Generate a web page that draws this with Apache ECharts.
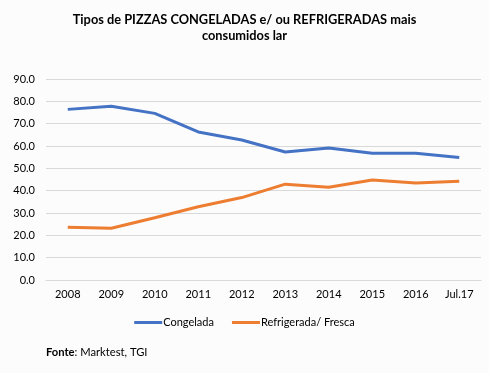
<!DOCTYPE html>
<html>
<head>
<meta charset="utf-8">
<script src="https://cdn.jsdelivr.net/npm/echarts@6/dist/echarts.min.js"></script>
<style>
html,body{margin:0;padding:0;background:#fcfcfc;}
#c{width:489px;height:373px;}
</style>
</head>
<body>
<div id="c"></div>
<script>
const categories = ['2008','2009','2010','2011','2012','2013','2014','2015','2016','Jul.17'];
const congelada = [76.4, 77.8, 74.6, 66.3, 62.7, 57.3, 59.1, 56.8, 56.8, 54.9];
const refrigerada = [23.6, 23.2, 27.9, 32.8, 36.9, 42.9, 41.5, 44.8, 43.4, 44.2];
const seriesNames = ['Congelada', 'Refrigerada/ Fresca'];
const titleText = 'Tipos de PIZZAS CONGELADAS e/ ou REFRIGERADAS mais\nconsumidos lar';
const sourceLabel = 'Fonte';
const sourceText = ': Marktest, TGI';

const font = 'Lato, "Open Sans", sans-serif';
const chart = echarts.init(document.getElementById('c'), null, {renderer:'canvas'});
chart.setOption({
  backgroundColor: '#fcfcfc',
  animation: false,
  title: {
    text: titleText,
    left: 'center',
    top: 7,
    textStyle: {fontFamily: font, fontSize: 12.8, fontWeight: 'bold', color: '#000', lineHeight: 16}
  },
  graphic: [{
    type: 'text',
    left: 46, top: 347,
    style: {
      text: '{b|' + sourceLabel + '}' + sourceText,
      fontFamily: font, fontSize: 11.2, fill: '#000',
      rich: {b: {fontWeight: 'bold', fontFamily: font, fontSize: 11.2}}
    }
  }],
  legend: {
    bottom: 40,
    left: 'center',
    itemWidth: 28,
    itemHeight: 3,
    itemGap: 18,
    icon: 'rect',
    textStyle: {fontFamily: font, fontSize: 11, color: '#000', padding: [0,0,0,-4]},
    data: seriesNames
  },
  grid: {left: 46, right: 8, top: 79, bottom: 93, containLabel: false},
  xAxis: {
    type: 'category',
    data: categories,
    boundaryGap: true,
    axisLine: {show: true, lineStyle: {color: '#d9d9d9'}},
    axisTick: {show: false},
    axisLabel: {fontFamily: font, fontSize: 11, color: '#000', margin: 9}
  },
  yAxis: {
    type: 'value',
    min: 0, max: 90, interval: 10,
    axisLine: {show: false},
    axisTick: {show: false},
    splitLine: {lineStyle: {color: '#d9d9d9', width: 1}},
    axisLabel: {fontFamily: font, fontSize: 11, color: '#000', margin: 11,
      formatter: v => v.toFixed(1)}
  },
  series: [
    {name: seriesNames[0], type: 'line', data: congelada, symbol: 'none',
     lineStyle: {color: '#4472C4', width: 3}, itemStyle: {color: '#4472C4'}},
    {name: seriesNames[1], type: 'line', data: refrigerada, symbol: 'none',
     lineStyle: {color: '#ED7D31', width: 3}, itemStyle: {color: '#ED7D31'}}
  ]
});
</script>
</body>
</html>
